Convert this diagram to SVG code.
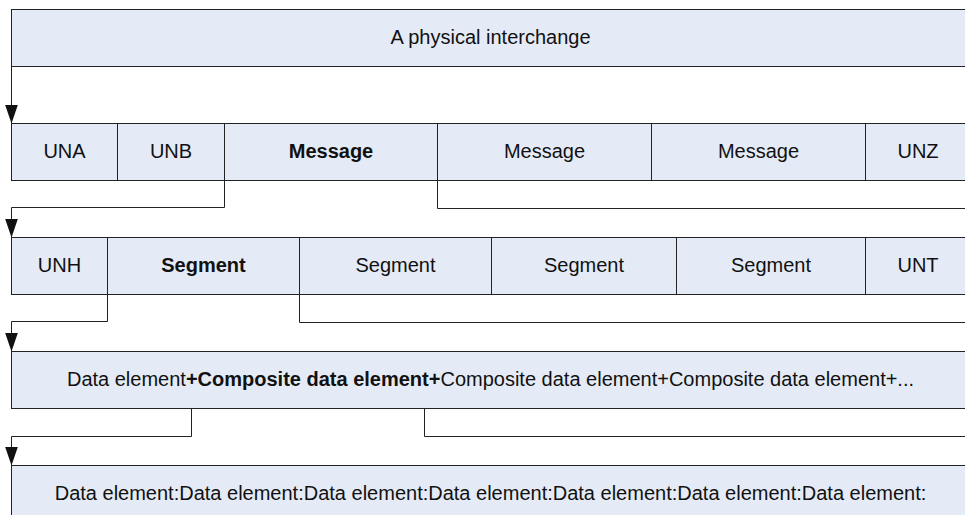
<svg xmlns="http://www.w3.org/2000/svg" width="965" height="515" viewBox="0 0 965 515">
  <style>
    .box { fill: #e5ebf6; stroke: #222; stroke-width: 1; }
    .lbl { font-family: "Liberation Sans", Arial, sans-serif; font-size: 20px; fill: #111; text-anchor: middle; }
    .b { font-weight: bold; }
    .wire { fill: none; stroke: #222; stroke-width: 1; }
  </style>
  <defs>
    <marker id="arrow" viewBox="0 0 19 13" refX="19" refY="6.5" markerWidth="19" markerHeight="13" markerUnits="userSpaceOnUse" orient="auto">
      <path d="M0,0 L19,6.5 L0,13 z" fill="#111"/>
    </marker>
  </defs>

  <rect width="965" height="515" fill="#ffffff"/>

  <!-- level 1: interchange -->
  <g id="interchange">
    <rect class="box" x="11.5" y="9.5" width="960" height="57"/>
    <text class="lbl" x="490.5" y="44">A physical interchange</text>
  </g>

  <!-- level 2: interchange contents -->
  <g id="una">
    <rect class="box" x="11.5" y="123.5" width="106" height="57"/>
    <text class="lbl" x="64.5" y="158">UNA</text>
  </g>
  <g id="unb">
    <rect class="box" x="117.5" y="123.5" width="107" height="57"/>
    <text class="lbl" x="171" y="158">UNB</text>
  </g>
  <g id="message1">
    <rect class="box" x="224.5" y="123.5" width="213" height="57"/>
    <text class="lbl b" x="331" y="158">Message</text>
  </g>
  <g id="message2">
    <rect class="box" x="437.5" y="123.5" width="214" height="57"/>
    <text class="lbl" x="544.5" y="158">Message</text>
  </g>
  <g id="message3">
    <rect class="box" x="651.5" y="123.5" width="214" height="57"/>
    <text class="lbl" x="758.5" y="158">Message</text>
  </g>
  <g id="unz">
    <rect class="box" x="865.5" y="123.5" width="106" height="57"/>
    <text class="lbl" x="918" y="158">UNZ</text>
  </g>

  <!-- level 3: message contents -->
  <g id="unh">
    <rect class="box" x="11.5" y="237.5" width="96" height="57"/>
    <text class="lbl" x="59.5" y="272">UNH</text>
  </g>
  <g id="segment1">
    <rect class="box" x="107.5" y="237.5" width="192" height="57"/>
    <text class="lbl b" x="203.5" y="272">Segment</text>
  </g>
  <g id="segment2">
    <rect class="box" x="299.5" y="237.5" width="192" height="57"/>
    <text class="lbl" x="395.5" y="272">Segment</text>
  </g>
  <g id="segment3">
    <rect class="box" x="491.5" y="237.5" width="185" height="57"/>
    <text class="lbl" x="584" y="272">Segment</text>
  </g>
  <g id="segment4">
    <rect class="box" x="676.5" y="237.5" width="189" height="57"/>
    <text class="lbl" x="771" y="272">Segment</text>
  </g>
  <g id="unt">
    <rect class="box" x="865.5" y="237.5" width="106" height="57"/>
    <text class="lbl" x="918" y="272">UNT</text>
  </g>

  <!-- level 4: segment contents -->
  <g id="segment-elements">
    <rect class="box" x="11.5" y="351.5" width="960" height="57"/>
    <text class="lbl" x="490.5" y="386">Data element<tspan class="b">+Composite data element+</tspan>Composite data element+Composite data element+...</text>
  </g>

  <!-- level 5: composite contents -->
  <g id="composite-elements">
    <rect class="box" x="11.5" y="465.5" width="960" height="57"/>
    <text class="lbl" x="490.5" y="500">Data element:Data element:Data element:Data element:Data element:Data element:Data element:</text>
  </g>

  <!-- connectors -->
  <g id="connectors">
    <path class="wire" d="M11.5,66.5 V123.5" marker-end="url(#arrow)"/>
    <path class="wire" d="M224.5,180.5 V207.5 H11.5 V237.5" marker-end="url(#arrow)"/>
    <path class="wire" d="M437.5,180.5 V208.5 H970"/>
    <path class="wire" d="M107.5,294.5 V321.5 H11.5 V351.5" marker-end="url(#arrow)"/>
    <path class="wire" d="M299.5,294.5 V322.5 H970"/>
    <path class="wire" d="M191.5,408.5 V436.5 H11.5 V465.5" marker-end="url(#arrow)"/>
    <path class="wire" d="M424.5,408.5 V436.5 H970"/>
  </g>
</svg>
